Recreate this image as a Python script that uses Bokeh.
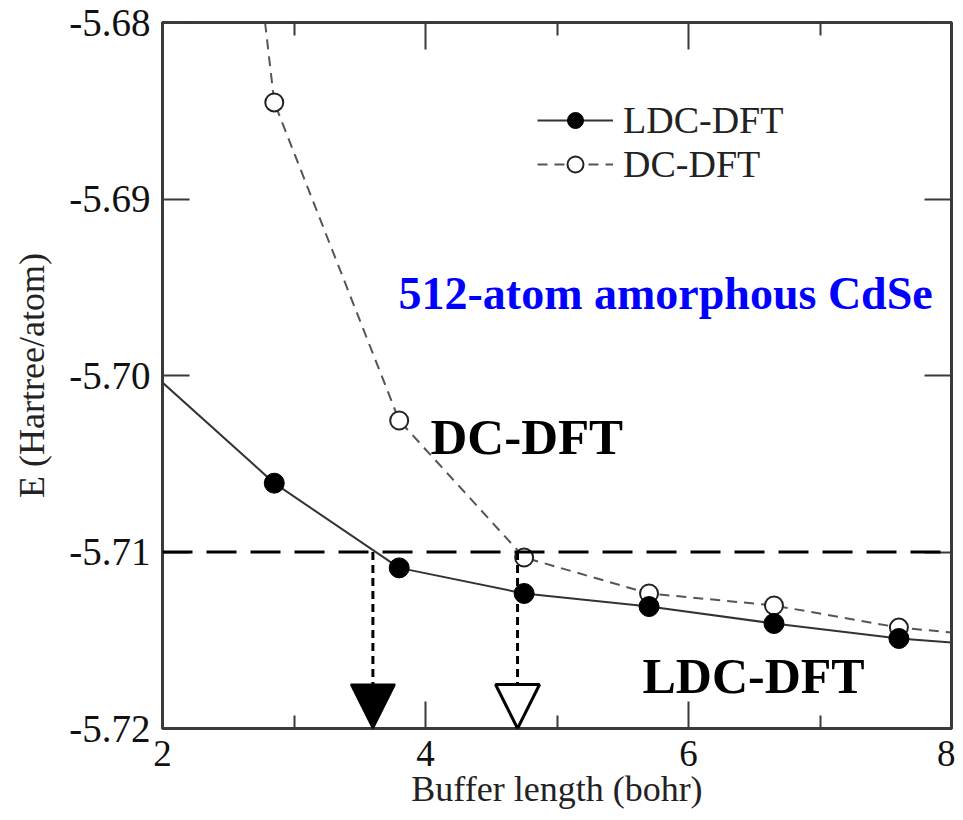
from bokeh.plotting import figure
from bokeh.models import (Span, Arrow, NormalHead, Label, Legend, LegendItem,
                          LinearAxis, FixedTicker, NumeralTickFormatter, Range1d,
                          CustomJSTickFormatter)
from bokeh.embed import file_html
from bokeh.resources import INLINE

# ---- data ----
buffer_len = [2.85, 3.8, 4.75, 5.7, 6.65, 7.6]
ldc_energy = [-5.7061, -5.7109, -5.71235, -5.71309, -5.71405, -5.7149]
dc_energy = [-5.68453, -5.70255, -5.71031, -5.71235, -5.71303, -5.71428]

# fitted curves drawn through the points (extend to plot edges)
ldc_curve_x = [2.0, 2.85, 3.8, 4.75, 5.7, 6.65, 7.6, 8.0]
ldc_curve_y = [-5.7004, -5.7061, -5.7109, -5.71235, -5.71309, -5.71405, -5.7149, -5.71513]
dc_curve_x = [2.78, 2.85, 3.8, 4.75, 5.7, 6.65, 7.6, 8.0]
dc_curve_y = [-5.6800, -5.68453, -5.70255, -5.71031, -5.71235, -5.71303, -5.71428, -5.71456]

threshold = -5.71
ldc_cross = 3.6
dc_cross = 4.7

x_ticks = [2, 4, 6, 8]
x_minor = [3, 5, 7]
y_ticks = [-5.72, -5.71, -5.70, -5.69, -5.68]

X_MIN, X_MAX = 2, 8
Y_MIN, Y_MAX = -5.72, -5.68

SERIF = "Liberation Serif"
FRAME = "#3a3a3a"

p = figure(width=955, height=812, output_backend="svg", toolbar_location=None,
           x_range=Range1d(X_MIN, X_MAX), y_range=Range1d(Y_MIN, Y_MAX),
           min_border_left=162, min_border_right=4, min_border_top=22,
           min_border_bottom=84)
p.grid.visible = False
p.outline_line_color = FRAME
p.outline_line_width = 3
p.background_fill_color = "white"
p.border_fill_color = "white"

def style_axis(ax, show_labels=True):
    ax.axis_line_color = FRAME
    ax.axis_line_width = 3
    ax.major_tick_line_color = FRAME
    ax.minor_tick_line_color = FRAME
    ax.major_tick_line_width = 2
    ax.minor_tick_line_width = 2
    ax.major_tick_out = 0
    ax.minor_tick_out = 0
    ax.major_tick_in = 27
    ax.minor_tick_in = 13
    ax.major_label_text_font = SERIF
    ax.major_label_text_color = "#111111"
    ax.axis_label_text_font = SERIF
    ax.axis_label_text_font_style = "normal"
    ax.axis_label_text_color = "#222222"
    if not show_labels:
        ax.formatter = CustomJSTickFormatter(code="return ''")
        ax.major_label_standoff = 0

xt = FixedTicker(ticks=x_ticks, minor_ticks=x_minor)
yt = FixedTicker(ticks=y_ticks, minor_ticks=[])

xa = p.xaxis[0]
xa.ticker = xt
style_axis(xa)
xa.major_label_text_font_size = "37px"
xa.major_label_standoff = 12
xa.axis_label = "Buffer length (bohr)"
xa.axis_label_text_font_size = "36px"
xa.axis_label_standoff = 0

ya = p.yaxis[0]
ya.ticker = yt
ya.formatter = NumeralTickFormatter(format="0.00")
style_axis(ya)
ya.major_label_text_font_size = "39px"
ya.major_label_standoff = 12
ya.axis_label = "E (Hartree/atom)"
ya.axis_label_text_font_size = "36px"
ya.axis_label_standoff = 14

top_ax = LinearAxis(ticker=xt)
style_axis(top_ax, show_labels=False)
p.add_layout(top_ax, "above")
right_ax = LinearAxis(ticker=yt)
style_axis(right_ax, show_labels=False)
p.add_layout(right_ax, "right")

# threshold line
p.add_layout(Span(location=threshold, dimension="width", line_color="black",
                  line_width=3, line_dash="30 14"))

# curves
dc_line = p.line(dc_curve_x, dc_curve_y, line_color="#555555", line_width=2,
                 line_dash="10 7")
ldc_line = p.line(ldc_curve_x, ldc_curve_y, line_color="#333333", line_width=2)

# arrows to buffer length
p.add_layout(Arrow(x_start=ldc_cross, y_start=threshold, x_end=ldc_cross, y_end=Y_MIN,
                   line_color="black", line_width=3, line_dash="8 5",
                   end=NormalHead(size=44, fill_color="black", line_color="black",
                                  line_width=2)))
p.add_layout(Arrow(x_start=dc_cross, y_start=threshold, x_end=dc_cross, y_end=Y_MIN,
                   line_color="black", line_width=3, line_dash="8 5",
                   end=NormalHead(size=44, fill_color="white", line_color="black",
                                  line_width=3)))

dc_pts = p.scatter(buffer_len, dc_energy, size=18, marker="circle",
                   fill_color="white", line_color="#222222", line_width=2)
ldc_pts = p.scatter(buffer_len, ldc_energy, size=20, marker="circle",
                    fill_color="black", line_color="black")

legend = Legend(items=[LegendItem(label="LDC-DFT", renderers=[ldc_line, ldc_pts]),
                       LegendItem(label="DC-DFT", renderers=[dc_line, dc_pts])],
                location=(375, 542), padding=0, margin=0, spacing=0,
                glyph_width=76, glyph_height=40, label_height=40,
                label_standoff=10, label_text_font=SERIF,
                label_text_font_size="38px", label_text_color="#222222",
                border_line_alpha=0, background_fill_alpha=0)
p.add_layout(legend)

p.add_layout(Label(x=3.795, y=-5.69535, text="512-atom amorphous CdSe",
                   text_font=SERIF, text_font_style="bold", text_font_size="46px",
                   text_color="#0000ff", text_baseline="alphabetic"))
p.add_layout(Label(x=4.038, y=-5.70351, text="DC-DFT",
                   text_font=SERIF, text_font_style="bold", text_font_size="51px",
                   text_color="black", text_baseline="alphabetic"))
p.add_layout(Label(x=5.65, y=-5.71700, text="LDC-DFT",
                   text_font=SERIF, text_font_style="bold", text_font_size="50px",
                   text_color="black", text_baseline="alphabetic"))

open("out.html", "w").write(file_html(p, INLINE))
